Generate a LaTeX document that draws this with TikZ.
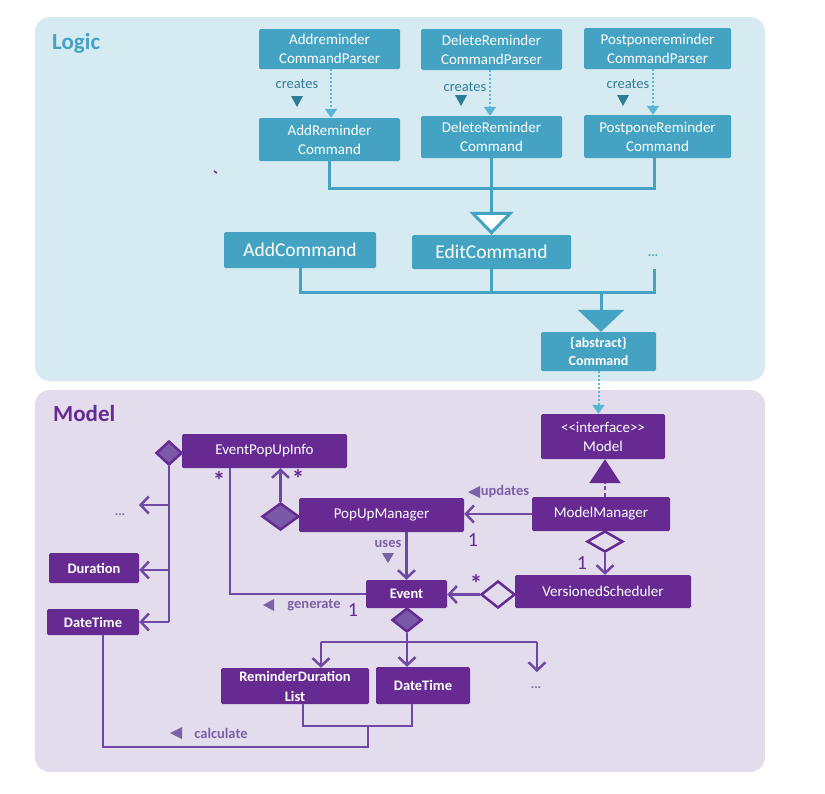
\documentclass[tikz,border=0pt]{standalone}
\usepackage{fontspec}
\setmainfont{Carlito}
\usetikzlibrary{arrows.meta,shapes.geometric,calc}
\definecolor{logicbg}{HTML}{D6EAF1}
\definecolor{modelbg}{HTML}{E2DCEC}
\definecolor{lblue}{HTML}{44A3C2}
\definecolor{lblue2}{HTML}{5AB5D3}
\definecolor{ldark}{HTML}{2C7E98}
\definecolor{mpurple}{HTML}{662A92}
\definecolor{mlinec}{HTML}{7048A4}
\definecolor{mfill}{HTML}{7A5AA8}
\definecolor{mlabel}{HTML}{7B62A8}
\tikzset{
  lbox/.style={fill=lblue, text=white, inner sep=0pt, align=center, rounded corners=1.5pt, font=\fontsize{15}{19}\selectfont},
  mbox/.style={fill=mpurple, text=white, inner sep=0pt, align=center, rounded corners=1.5pt, font=\fontsize{15}{19}\selectfont},
  mboxb/.style={mbox, font=\bfseries\fontsize{14.5}{20}\selectfont},
  lline/.style={draw=lblue, line width=3pt},
  ldot/.style={draw=lblue2, line width=2pt, dash pattern=on 2pt off 2pt, -{Triangle[length=9pt,width=12pt]}},
  mln/.style={draw=mlinec, line width=2.5pt},
  oarrow/.style={-{Straight Barb[length=8pt,width=17pt,line width=2.5pt]}},
  fdia/.style={diamond, draw=mpurple, fill=mfill, line width=2.5pt, inner sep=0pt},
  hdia/.style={diamond, draw=mpurple, fill=modelbg, line width=2.5pt, inner sep=0pt},
  lab/.style={text=mlabel, inner sep=0pt, font=\bfseries\fontsize{14.5}{15}\selectfont},
  cre/.style={text=ldark, inner sep=0pt, font=\fontsize{14.5}{15}\selectfont},
  mult/.style={text=mpurple, inner sep=0pt, font=\fontsize{20}{20}\selectfont},
  star/.style={text=mpurple, inner sep=0pt, font=\bfseries\fontsize{25}{25}\selectfont},
  dots/.style={inner sep=0pt, font=\bfseries\fontsize{13}{13}\selectfont}
}
\begin{document}
\begin{tikzpicture}[x=1pt,y=-1pt]
\useasboundingbox (0,0) rectangle (825,793);
% panels
\fill[logicbg, rounded corners=15pt] (35,17) rectangle (765,381);
\fill[modelbg, rounded corners=15pt] (35,390) rectangle (765,772);
\node[text=lblue, inner sep=0pt, anchor=base west, font=\bfseries\fontsize{23}{23}\selectfont] (logict) at (52,49) {Logic};
\node[text=mpurple, inner sep=0pt, anchor=base west, font=\bfseries\fontsize{23}{23}\selectfont] (modelt) at (53,421) {Model};

% ---------- Logic ----------
\node[lbox, minimum width=141, minimum height=40] (acp) at (329.5,49) {Addreminder\\CommandParser};
\node[lbox, minimum width=141, minimum height=43] (arc) at (329.5,139.5) {AddReminder\\Command};
\node[lbox, minimum width=141, minimum height=41] (dcp) at (491.5,49.5) {DeleteReminder\\CommandParser};
\node[lbox, minimum width=141, minimum height=42] (drc) at (491.5,137) {DeleteReminder\\Command};
\node[lbox, minimum width=147, minimum height=41] (pcp) at (657.5,48.5) {Postponereminder\\CommandParser};
\node[lbox, minimum width=147, minimum height=43] (prc) at (657.5,136.5) {PostponeReminder\\Command};
\node[lbox, minimum width=152, minimum height=36, font=\fontsize{19.5}{20}\selectfont] (addc) at (300,250) {AddCommand};
\node[lbox, minimum width=159, minimum height=34, font=\fontsize{19.5}{20}\selectfont] (editc) at (491.5,252) {EditCommand};
\node[dots, text=lblue] (ldotsn) at (653,256) {...};
\node[lbox, minimum width=115, minimum height=39, font=\bfseries\fontsize{14}{18}\selectfont] (cmd) at (598.5,351.5) {\{abstract\}\\Command};

% creates
\draw[ldot] ($(acp.south)+(1.5,0)$) -- ($(arc.north)+(1.5,0)$);
\draw[ldot] ($(dcp.south)+(-1.5,0)$) -- ($(drc.north)+(-1.5,0)$);
\draw[ldot] ($(pcp.south)+(-4.5,0)$) -- ($(prc.north)+(-4.5,0)$);
\node[cre] (cr1) at (297,84) {creates};
\node[cre] (cr2) at (465,87) {creates};
\node[cre] (cr3) at (628,84) {creates};
\fill[ldark] (291,96) -- (303,96) -- (297,107) -- cycle;
\fill[ldark] (455,95) -- (467,95) -- (461,106) -- cycle;
\fill[ldark] (617,95) -- (629,95) -- (623,106) -- cycle;

% generalisation of reminder commands
\coordinate (bus1) at (491.5,188);
\draw[lline] (arc.south) |- (bus1);
\draw[lline] ($(prc.south)+(-3.5,0)$) |- (bus1);
\draw[lline] (drc.south) -- (bus1);
\draw[lline, -{Triangle[length=23pt,width=44pt,fill=white,line width=3pt]}] (bus1) -- (editc.north);

% generalisation of commands
\coordinate (ldots) at (654,269);
\coordinate (bus2) at (601,292);
\draw[lline] (addc.south) |- (ldots |- bus2) -- (ldots);
\draw[lline] (editc.south) -- (editc.south |- bus2);
\draw[lline, -{Triangle[length=22pt,width=46pt]}] (bus2) -- (bus2 |- cmd.north);

% stray mark
\draw[mpurple, line width=1.5pt] (214,171) -- (217,173);

% ---------- Model ----------
\node[mbox, minimum width=124, minimum height=45] (model) at (603,436.5) {<\kern0pt<interface>\kern0pt>\\Model};
\node[mbox, minimum width=165, minimum height=34] (epi) at (264.5,451) {EventPopUpInfo};
\node[mbox, minimum width=165, minimum height=34] (pum) at (381.5,515) {PopUpManager};
\node[mbox, minimum width=138, minimum height=34] (mm) at (601,514) {ModelManager};
\node[mbox, minimum width=176, minimum height=33] (vs) at (603,591.5) {VersionedScheduler};
\node[mboxb, minimum width=81, minimum height=28] (ev) at (406.5,594) {Event};
\node[mboxb, minimum width=90, minimum height=30] (dur) at (94,568) {Duration};
\node[mboxb, minimum width=92, minimum height=26] (dtl) at (93,622) {DateTime};
\node[mboxb, minimum width=148, minimum height=36] (rdl) at (295,686) {ReminderDuration\\List};
\node[mboxb, minimum width=94, minimum height=37] (dtb) at (423,685.5) {DateTime};
\node[dots, text=mlabel] (ldotsm) at (120,515) {...};
\node[dots, text=mlabel] (bdotsm) at (536,688) {...};

% dotted realisation Command -> Model
\draw[ldot] (cmd.south) -- (cmd.south |- model.north);

% EventPopUpInfo composition
\node[fdia, minimum width=26, minimum height=24] (d1) at (169,453) {};
\coordinate (ldarr) at (139,505);
\draw[mln] (d1.south) -- (d1.south |- dtl.east);
\draw[mln, oarrow] (d1.south |- ldarr) -- (ldarr);
\draw[mln, oarrow] (d1.south |- 0,570) -- (dur.east |- 0,570);
\draw[mln, oarrow] (d1.south |- dtl.east) -- (dtl.east);

% PopUpManager composition of EventPopUpInfo
\node[fdia, minimum width=37, minimum height=27] (d2) at (280.5,516.5) {};
\draw[mln, oarrow] (d2.north) -- (d2.north |- epi.south);
\node[star] (s1) at (298,479) {*};
\node[star] (s2) at (219,481) {*};

% generate
\coordinate (epib) at ($(epi.south west)+(48,0)$);
\draw[mln] (epib) |- (ev.west);
\node[lab] (gen) at (314,605) {generate};
\fill[mlabel] (263,605) -- (274,599) -- (274,611) -- cycle;
\node[mult] (m1) at (353,610) {1};

% uses
\draw[mln, oarrow] (ev.north |- pum.south) -- (ev.north);
\node[lab] (uses) at (388,544) {uses};
\fill[mlabel] (382,553) -- (394,553) -- (388,563) -- cycle;

% updates
\draw[mln, oarrow] (mm.west) -- (mm.west -| pum.east);
\node[lab] (upd) at (505,492) {updates};
\fill[mlabel] (468,492) -- (480,486) -- (480,498) -- cycle;
\node[mult] (m2) at (473,540) {1};

% realisation ModelManager -> Model
\coordinate (mmtop) at ($(mm.north)+(4,0)$);
\draw[mln, dash pattern=on 4pt off 3pt, -{Triangle[length=24pt,width=31pt,color=mpurple]}] (mmtop) -- (mmtop |- model.south);

% ModelManager aggregation of VersionedScheduler
\node[hdia, minimum width=36, minimum height=21] (d3) at (605,541.5) {};
\draw[mln, oarrow] (d3.south) -- (d3.south |- vs.north);
\node[mult] (m3) at (582,563) {1};

% VersionedScheduler aggregation of Event
\node[hdia, minimum width=34, minimum height=27] (d4) at (498,594.5) {};
\draw[mln, oarrow] (d4.west) -- (d4.west -| ev.east);
\node[star] (s3) at (476,584) {*};

% Event composition
\node[fdia, minimum width=30, minimum height=24] (d5) at (407,620) {};
\coordinate (bus3) at (407,642);
\coordinate (b3l) at (321,642);
\coordinate (b3r) at (537,642);
\coordinate (bdots) at (537,672);
\draw[mln] (d5.south) -- (bus3);
\draw[mln] (b3l) -- (b3r);
\draw[mln, oarrow] (b3l) -- (b3l |- rdl.north);
\draw[mln, oarrow] (bus3) -- (bus3 |- dtb.north);
\draw[mln, oarrow] (b3r) -- (bdots);

% calculate
\coordinate (rdlb) at ($(rdl.south)+(8,0)$);
\coordinate (dtbb) at ($(dtb.south)+(-11,0)$);
\coordinate (dtlb) at ($(dtl.south)+(10,0)$);
\coordinate (j1) at (368,726);
\coordinate (j2) at (368,747);
\draw[mln] (rdlb) |- (j1) -| (dtbb);
\draw[mln] (j1) -- (j2) -| (dtlb);
\node[lab] (calc) at (221,733) {calculate};
\fill[mlabel] (170,733) -- (182,727) -- (182,739) -- cycle;
\end{tikzpicture}
\end{document}
